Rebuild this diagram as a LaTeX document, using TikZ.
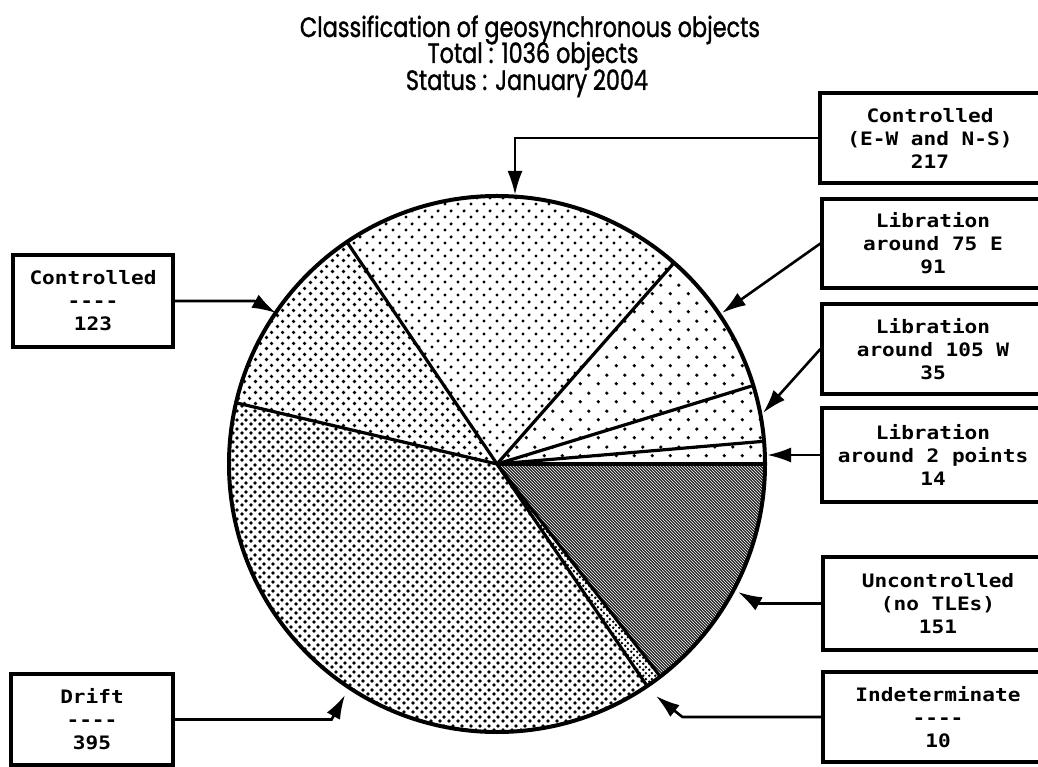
\documentclass[tikz,border=0pt]{standalone}
\usepackage{fontspec}
\usetikzlibrary{arrows.meta,patterns}
\newfontfamily\titlefont[FakeStretch=0.8,FakeBold=1.2]{Poppins}
\newfontfamily\plotfont[FakeStretch=1.14]{DejaVu Sans Mono}

% staggered dot screen: name, tile size, dot radius
\newcommand\dotpattern[3]{%
  \pgfdeclarepatternformonly{#1}{\pgfpointorigin}{\pgfpoint{#2}{#2}}{\pgfpoint{#2}{#2}}{%
    \pgfpathcircle{\pgfpoint{0.25*#2}{0.25*#2}}{#3}%
    \pgfpathcircle{\pgfpoint{0.75*#2}{0.75*#2}}{#3}%
    \pgfusepath{fill}}}
\dotpattern{sparsedots}{18pt}{1.9pt}
\dotpattern{mediumdots}{13pt}{1.8pt}
\dotpattern{closedots}{10.5pt}{1.9pt}
\dotpattern{driftdots}{8.5pt}{2.0pt}
\dotpattern{tightdots}{6pt}{1.6pt}

\begin{document}
\begin{tikzpicture}[x=1pt,y=1pt,
  rim/.style={line width=4pt},
  spoke/.style={line width=3.2pt},
  labelbox/.style={draw, line width=3.2pt, align=center, inner sep=0pt,
    font=\plotfont\bfseries\fontsize{18.5}{23}\selectfont},
  pointer/.style={line width=2.6pt, -{Latex[length=24pt,width=15pt]}},
  headline/.style={font=\titlefont\fontsize{28}{28}\selectfont, anchor=base}
]
\useasboundingbox (0,0) rectangle (1038,766);
\fill[white] (0,0) rectangle (1038,766);
\clip (0,0) rectangle (1038,766);

% title
\node[headline] (title1) at (530,729) {Classification of geosynchronous objects};
\node[headline] (title2) at (533,703) {Total : 1036 objects};
\node[headline] (title3) at (527,676) {Status : January 2004};

% pie: 1036 objects, angles counter-clockwise from the east
\coordinate (C) at (497,302);
\def\R{268}
\newcommand\pieslice[3]{\fill[#3] (C) -- ++(#1:\R) arc[start angle=#1, end angle=#2, radius=\R] -- cycle;}
\pieslice{0}{4.865}{pattern=sparsedots}
\pieslice{4.865}{17.027}{pattern=sparsedots}
\pieslice{17.027}{48.65}{pattern=sparsedots}
\pieslice{48.65}{124.05}{pattern=mediumdots}
\pieslice{124.05}{166.80}{pattern=closedots}
\pieslice{166.80}{304.06}{pattern=driftdots}
\pieslice{304.06}{307.53}{pattern=tightdots}
\pieslice{307.53}{360}{black!85}
\pieslice{307.53}{360}{pattern=north west lines, pattern color=white}
\foreach \a in {0,4.865,17.027,48.65,124.05,166.80,304.06,307.53}
  \draw[spoke] (C) -- ++(\a:\R);
\draw[rim] (C) circle[radius=\R];

% label boxes
\node[labelbox, minimum width=220pt, minimum height=90pt] (ew) at (930,628) {Controlled\\(E-W and N-S)\\217};
\node[labelbox, minimum width=222pt, minimum height=89pt] (lib75) at (933,522.5) {Libration\\around 75 E\\91};
\node[labelbox, minimum width=222pt, minimum height=90pt] (lib105) at (933,417) {Libration\\around 105 W\\35};
\node[labelbox, minimum width=222pt, minimum height=94pt] (lib2) at (933,311) {Libration\\around 2 points\\14};
\node[labelbox, minimum width=230pt, minimum height=93pt] (unc) at (938,162.5) {Uncontrolled\\(no TLEs)\\151};
\node[labelbox, minimum width=230pt, minimum height=90pt] (ind) at (938,49) {Indeterminate\\----\\10};
\node[labelbox, minimum width=160pt, minimum height=92pt] (ctl) at (93,465) {Controlled\\----\\123};
\node[labelbox, minimum width=162pt, minimum height=91pt] (dri) at (92,46.5) {Drift\\----\\395};

% arrow tips on the rim
\coordinate (tEW) at (515,571);
\coordinate (t75) at (722,453);
\coordinate (t105) at (763,353);
\coordinate (t2) at (767,311);
\coordinate (tUn) at (738,174);
\coordinate (tIn) at (656,70);
\coordinate (tCo) at (276,453);
\coordinate (tDr) at (345,71);

% connectors
\draw[pointer] (ew.west) -| (tEW);
\draw[pointer] (lib75.west) -- (t75);
\draw[pointer] (lib105.west) -- (t105);
\draw[pointer] (lib2.west) -- (t2);
\draw[pointer] (unc.west) -- ++(-63,0) -- (tUn);
\draw[pointer] (ind.west) -- ++(-139,0) -- (tIn);
\draw[pointer] (ctl.east) -- ++(80,0) -- (tCo);
\draw[pointer] (dri.east) -- ++(157,0) -- (tDr);
\end{tikzpicture}
\end{document}
